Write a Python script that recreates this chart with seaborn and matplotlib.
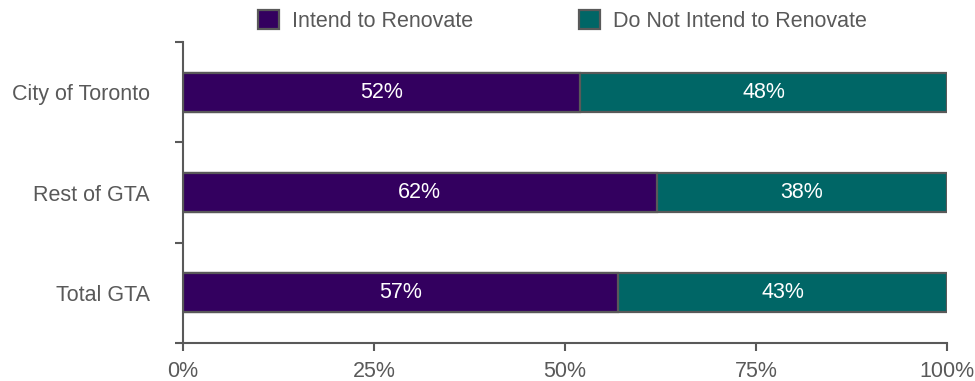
import matplotlib
matplotlib.use("Agg")
import matplotlib.pyplot as plt
import seaborn as sns
import pandas as pd
from matplotlib.patches import Patch

regions = ["City of Toronto", "Rest of GTA", "Total GTA"]
intend = [52, 62, 57]
not_intend = [48, 38, 43]
series_names = ["Intend to Renovate", "Do Not Intend to Renovate"]
x_ticks = [0, 25, 50, 75, 100]
x_tick_labels = ["0%", "25%", "50%", "75%", "100%"]

purple = "#33005F"
teal = "#006666"
grey = "#595959"
fs = 15.5

sns.set_theme(style="white")
plt.rcParams["font.family"] = ["Liberation Sans", "DejaVu Sans"]

df = pd.DataFrame({
    "region": regions,
    "intend": intend,
    "not_intend": not_intend,
})
df["total"] = df["intend"] + df["not_intend"]

fig = plt.figure(figsize=(9.75, 3.81), dpi=100)
ax = fig.add_axes([0.1877, 0.0997, 0.7836, 0.7901])

# full-width bar first, then the "intend" share over it
sns.barplot(data=df, x="total", y="region", orient="h", color=teal,
            width=0.39, edgecolor=grey, linewidth=1.6, saturation=1, ax=ax)
sns.barplot(data=df, x="intend", y="region", orient="h", color=purple,
            width=0.39, edgecolor=grey, linewidth=1.6, saturation=1, ax=ax)

for i, (a, b) in enumerate(zip(intend, not_intend)):
    ax.text(a / 2, i, f"{a}%", ha="center", va="center", color="white", fontsize=fs)
    ax.text(a + b / 2, i, f"{b}%", ha="center", va="center", color="white", fontsize=fs)

ax.set_xlim(0, 100)
ax.set_ylim(2.5, -0.5)
ax.set_xlabel("")
ax.set_ylabel("")

ax.set_xticks(x_ticks)
ax.set_xticklabels(x_tick_labels)
ax.set_yticks(range(len(regions)))
ax.set_yticklabels(regions)
ax.set_yticks([-0.5, 0.5, 1.5, 2.5], minor=True)

ax.tick_params(axis="x", which="major", length=6, width=1.5, color=grey,
               labelcolor=grey, labelsize=fs, direction="out", bottom=True, pad=7)
ax.tick_params(axis="y", which="major", length=0, labelcolor=grey, labelsize=fs, pad=24)
ax.tick_params(axis="y", which="minor", length=6, width=1.5, color=grey, left=True, direction="out")

for side in ["top", "right"]:
    ax.spines[side].set_visible(False)
for side in ["left", "bottom"]:
    ax.spines[side].set_color(grey)
    ax.spines[side].set_linewidth(1.5)

handles = [Patch(facecolor=purple, edgecolor=grey, linewidth=1.6),
           Patch(facecolor=teal, edgecolor=grey, linewidth=1.6)]
leg = fig.legend(handles, series_names, loc="center", bbox_to_anchor=(0.577, 0.946),
                 ncol=2, frameon=False, fontsize=fs, handlelength=1.0, handleheight=1.0,
                 handletextpad=0.6, columnspacing=4.9, borderpad=0)
for t in leg.get_texts():
    t.set_color(grey)

fig.savefig("out.png", dpi=100)
